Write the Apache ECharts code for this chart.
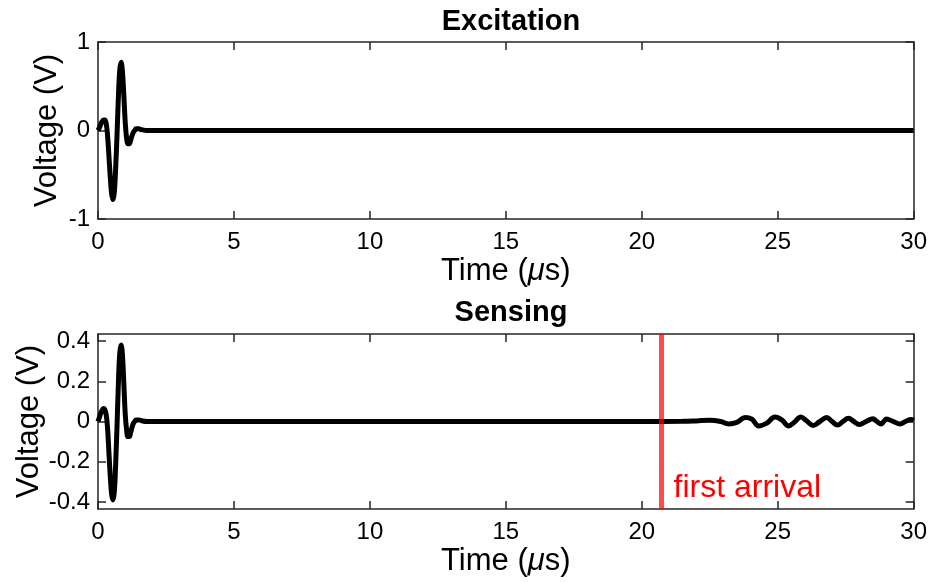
<!DOCTYPE html>
<html>
<head>
<meta charset="utf-8">
<script src="https://cdn.jsdelivr.net/npm/echarts@6/dist/echarts.min.js"></script>
<style>
  html, body { margin: 0; padding: 0; background: #fff; }
  #chart { width: 930px; height: 582px; }
</style>
</head>
<body>
<div id="chart"></div>
<script>
// Excitation pulse (time in µs, voltage in V)
const excitationTime = [0, 0.05, 0.10, 0.15, 0.20, 0.25, 0.30, 0.35, 0.40, 0.45, 0.50, 0.55, 0.60, 0.65, 0.70, 0.75, 0.80, 0.85, 0.90, 0.95, 1.00, 1.05, 1.10, 1.15, 1.20, 1.25, 1.30, 1.35, 1.40, 1.50, 1.60, 1.80, 2.5, 5, 10, 15, 20, 25, 30];
const excitationVolt = [0, 0.03, 0.07, 0.10, 0.12, 0.12, 0.08, -0.05, -0.28, -0.52, -0.71, -0.78, -0.70, -0.42, -0.05, 0.38, 0.68, 0.77, 0.66, 0.40, 0.10, -0.08, -0.15, -0.15, -0.11, -0.06, -0.02, 0.00, 0.02, 0.02, 0.01, 0, 0, 0, 0, 0, 0, 0, 0];

// Sensed signal: crosstalk pulse followed by the arriving wave packet
const sensingTime = [0, 0.05, 0.10, 0.15, 0.20, 0.25, 0.30, 0.35, 0.40, 0.45, 0.50, 0.55, 0.60, 0.65, 0.70, 0.75, 0.80, 0.85, 0.90, 0.95, 1.00, 1.05, 1.10, 1.15, 1.20, 1.25, 1.30, 1.35, 1.40, 1.50, 1.60, 1.80, 2.5, 5, 10, 15, 20, 21.5, 22.0, 22.5, 22.9, 23.2, 23.5, 23.8, 24.05, 24.3, 24.6, 24.9, 25.15, 25.4, 25.6, 25.85, 26.05, 26.3, 26.55, 26.8, 27.0, 27.2, 27.4, 27.6, 27.8, 28.0, 28.25, 28.5, 28.65, 28.8, 28.9, 29.0, 29.25, 29.5, 29.7, 29.9, 30.0];
const sensingVolt = [0, 0.02, 0.04, 0.055, 0.065, 0.06, 0.035, -0.03, -0.15, -0.27, -0.36, -0.39, -0.35, -0.21, -0.02, 0.19, 0.34, 0.38, 0.33, 0.19, 0.04, -0.04, -0.075, -0.075, -0.055, -0.03, -0.01, 0.00, 0.008, 0.008, 0.004, 0, 0, 0, 0, 0, 0, 0.001, 0.003, 0.006, 0.0, -0.012, -0.004, 0.02, 0.012, -0.022, -0.008, 0.022, 0.008, -0.022, -0.005, 0.022, 0.005, -0.02, 0.0, 0.02, 0.0, -0.018, 0.0, 0.016, 0.0, -0.015, 0.0, 0.014, 0.0, -0.012, 0.0, 0.012, 0.0, -0.012, 0.0, 0.01, 0.006];

const timeTicks = [0, 5, 10, 15, 20, 25, 30];
const excitationTicks = [-1, 0, 1];
const sensingTicks = [-0.4, -0.2, 0, 0.2, 0.4];
const firstArrival = 20.7;

const pair = (xs, ys) => xs.map((x, i) => [x, ys[i]]);

const FONT = 'Liberation Sans, Arial, sans-serif';
const AXIS_COLOR = '#262626';

function xAxes(gridIndex) {
  return [
    {
      type: 'value', gridIndex, position: 'bottom', min: 0, max: 30, interval: 5,
      axisLine: { show: true, onZero: false, lineStyle: { color: AXIS_COLOR, width: 1.5 } },
      axisTick: { show: true, inside: true, length: 8, customValues: timeTicks, lineStyle: { color: AXIS_COLOR, width: 1.5 } },
      axisLabel: { color: '#000', fontFamily: FONT, fontSize: 24, margin: 11, customValues: timeTicks },
      splitLine: { show: false },
      name: '{a|Time (}{b|μ}{a|s)}', nameLocation: 'middle', nameGap: 37, nameMoveOverlap: false,
      nameTextStyle: {
        rich: {
          a: { fontFamily: FONT, fontSize: 31, color: '#000' },
          b: { fontFamily: FONT, fontSize: 31, color: '#000', fontStyle: 'italic' }
        }
      }
    },
    {
      type: 'value', gridIndex, position: 'top', min: 0, max: 30, interval: 5,
      axisLine: { show: true, onZero: false, lineStyle: { color: AXIS_COLOR, width: 1.5 } },
      axisTick: { show: true, inside: true, length: 8, customValues: timeTicks, lineStyle: { color: AXIS_COLOR, width: 1.5 } },
      axisLabel: { show: false }, splitLine: { show: false }
    }
  ];
}

function yAxes(gridIndex, min, max, ticks, nameGap) {
  return [
    {
      type: 'value', gridIndex, position: 'left', min, max,
      axisLine: { show: true, onZero: false, lineStyle: { color: AXIS_COLOR, width: 1.5 } },
      axisTick: { show: true, inside: true, length: 8, customValues: ticks, lineStyle: { color: AXIS_COLOR, width: 1.5 } },
      axisLabel: { color: '#000', fontFamily: FONT, fontSize: 24, margin: 8, customValues: ticks },
      splitLine: { show: false },
      name: 'Voltage (V)', nameLocation: 'middle', nameGap, nameMoveOverlap: false,
      nameTextStyle: { fontFamily: FONT, fontSize: 31, color: '#000' }
    },
    {
      type: 'value', gridIndex, position: 'right', min, max,
      axisLine: { show: true, onZero: false, lineStyle: { color: AXIS_COLOR, width: 1.5 } },
      axisTick: { show: true, inside: true, length: 8, customValues: ticks, lineStyle: { color: AXIS_COLOR, width: 1.5 } },
      axisLabel: { show: false }, splitLine: { show: false }
    }
  ];
}

const chart = echarts.init(document.getElementById('chart'), null, { renderer: 'canvas' });

chart.setOption({
  animation: false,
  backgroundColor: '#fff',
  title: [
    { text: 'Excitation', left: 506, top: 2, textAlign: 'center',
      textStyle: { fontFamily: FONT, fontSize: 29, fontWeight: 'bold', color: '#000' } },
    { text: 'Sensing', left: 506, top: 293, textAlign: 'center',
      textStyle: { fontFamily: FONT, fontSize: 29, fontWeight: 'bold', color: '#000' } }
  ],
  grid: [
    { left: 98, right: 15, top: 42, height: 177 },
    { left: 98, right: 15, top: 334, height: 175 }
  ],
  xAxis: [...xAxes(0), ...xAxes(1)],
  yAxis: [...yAxes(0, -1, 1, excitationTicks, 35), ...yAxes(1, -0.435, 0.435, sensingTicks, 53)],
  series: [
    {
      type: 'line', xAxisIndex: 0, yAxisIndex: 0,
      data: pair(excitationTime, excitationVolt),
      smooth: 0.4, showSymbol: false,
      lineStyle: { color: '#000', width: 5 }
    },
    {
      type: 'line', xAxisIndex: 2, yAxisIndex: 2,
      data: pair(sensingTime, sensingVolt),
      smooth: 0.4, showSymbol: false,
      lineStyle: { color: '#000', width: 5 },
      markLine: {
        silent: true, symbol: 'none', animation: false,
        label: { show: false },
        lineStyle: { color: 'rgba(255,0,0,0.7)', width: 5, type: 'solid' },
        data: [{ xAxis: firstArrival }]
      },
      markPoint: {
        silent: true, symbol: 'circle', symbolSize: 1,
        itemStyle: { color: 'rgba(0,0,0,0)' },
        label: {
          show: true, position: 'right', distance: 0,
          formatter: 'first arrival',
          fontFamily: FONT, fontSize: 32, color: '#ff0000'
        },
        data: [{ coord: [21.15, -0.33] }]
      }
    }
  ]
});
</script>
</body>
</html>
